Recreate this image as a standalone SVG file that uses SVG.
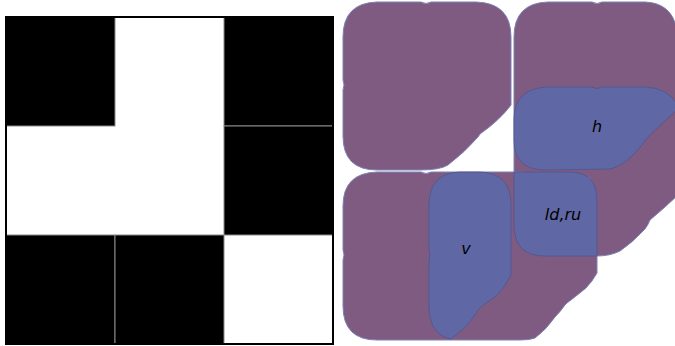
<svg xmlns="http://www.w3.org/2000/svg" width="675" height="346" viewBox="0 0 675 346">
<style>
.b{fill:#000;stroke:#8a8a8a;stroke-width:1}
.w{fill:#fff;stroke:none}
.blob{fill:#7f5b82;stroke:#7c82b4;stroke-width:1}
.reg{fill:#6067a5;stroke:#4e568f;stroke-width:0.8}
.lbl{font-family:"DejaVu Sans",sans-serif;font-style:italic;font-size:16px;fill:#000;text-anchor:middle}
</style>
<rect width="675" height="346" fill="#fff"/>
<g id="grid">
<rect class="w" x="6" y="17" width="327" height="327"/>
<rect class="b" x="6" y="17" width="109" height="109"/>
<rect class="b" x="224" y="17" width="109" height="109"/>
<rect class="b" x="224" y="126" width="109" height="109"/>
<rect class="b" x="6" y="235" width="109" height="109"/>
<rect class="b" x="115" y="235" width="109" height="109"/>
<rect x="6" y="17" width="327" height="327" fill="none" stroke="#000" stroke-width="2"/>
</g>
<g id="blob-top-left">
<path class="blob" d="M343,37 Q343,3 377,2 L421,2 Q426,5 431,2 L476,2 Q511,3 511,37 L511,105 Q500,120 480,134 L478,137 Q465,152 448,165 Q440,170 420,170 L377,170 Q343,170 343,136 L343,90 Q345,85 343,80 Z"/>
</g>
<g id="blob-top-right">
<path class="blob" d="M514,37 Q514,3 548,2 L592,2 Q597,5 602,2 L645,2 Q672,3 677,30 L677,196 Q662,210 650,220 Q648,225 645,229 Q632,243 620,251 Q610,256 597,256 L514,256 Z"/>
</g>
<g id="blob-bottom">
<path class="blob" d="M343,206 Q343,173 377,172 L421,172 Q426,175 431,172 L520,172 L590,178 L590,250 L597,256 L597,273 Q592,282 586,288 Q575,297 567,303 L565,305 Q560,312 555,317 Q546,330 535,338 Q530,340 520,340 L377,340 Q343,340 343,306 L343,260 Q345,255 343,250 Z"/>
</g>
<g id="h">
<path class="reg" d="M514,118 Q515,88 548,87 L592,87 Q597,90 602,87 L645,87 Q668,88 677,104 L677,110 Q660,125 648,137 Q640,148 633,155 Q622,166 610,169 L545,170 Q514,170 514,140 Z"/>
<text class="lbl" x="597" y="132">h</text>
</g>
<g id="ldru">
<path class="reg" d="M514,172 L571,172 Q597,173 597,200 L597,256 L545,256 Q514,256 514,225 Z"/>
<text class="lbl" x="563" y="220">ld,ru</text>
</g>
<g id="v">
<path class="reg" d="M429,205 Q429,173 460,172 L480,172 Q511,173 511,205 L511,275 Q505,288 495,297 Q482,305 478,310 Q470,325 451,339 Q429,335 429,305 L429,260 Q431,255 429,250 Z"/>
<text class="lbl" x="466" y="254">v</text>
</g>
<g id="connectors"></g>
</svg>
